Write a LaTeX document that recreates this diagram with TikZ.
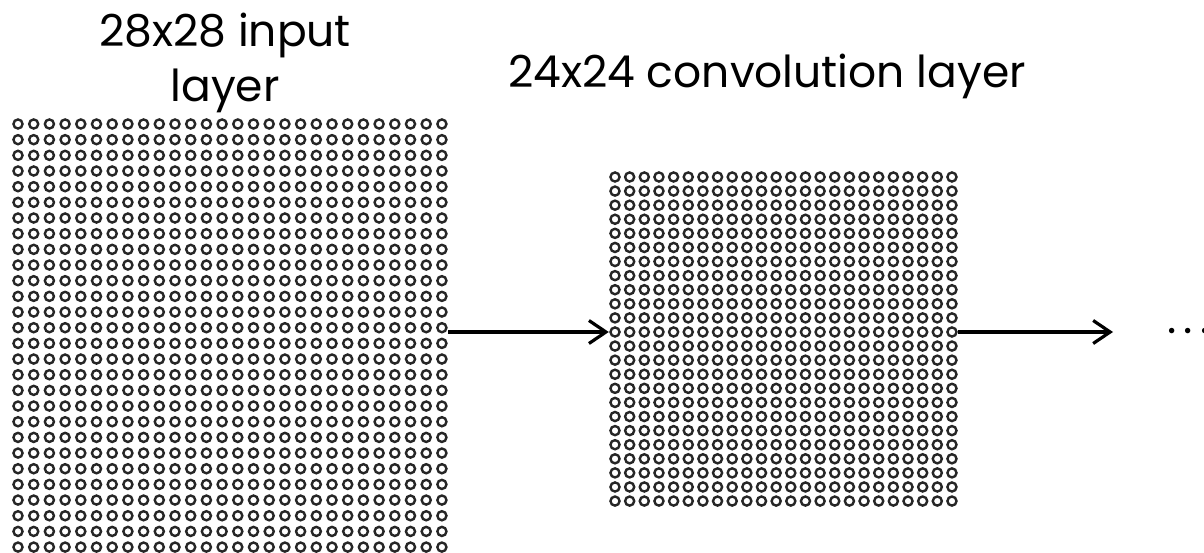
\documentclass[tikz,border=0pt]{standalone}
\usepackage{fontspec}
\setmainfont{Poppins}
\usetikzlibrary{arrows.meta}

\tikzset{
  unit/.style={draw=black!85, line width=2.4pt},
  layerbox/.style={inner sep=0pt, draw=none},
  conn/.style={line width=3.2pt, -{Straight Barb[length=17pt, width=23pt]}},
  title/.style={font=\fontsize{44}{55}\selectfont, align=center},
}

\begin{document}
\begin{tikzpicture}[x=1pt, y=-1pt]
  \useasboundingbox (0,0) rectangle (1204,553);

  %% --- 左：入力層（28x28） ---
  \begin{scope}
    \node[layerbox, minimum width=436pt, minimum height=435pt] (input) at (230, 335.5) {};
    \foreach \i in {0,...,27}
      \foreach \j in {0,...,27}
        \draw[unit] (18+15.7*\i, 124+15.67*\j) circle[radius=4.55pt];
    %% 複数行のノードでは base は最終行の基線
    \node[title, anchor=base] (inputtitle) at (225, 102) {28x28 input\\layer};
  \end{scope}

  %% --- 中：畳み込み層（24x24） ---
  \begin{scope}
    \node[layerbox, minimum width=349pt, minimum height=336pt] (conv) at (783.5, 339) {};
    \foreach \i in {0,...,23}
      \foreach \j in {0,...,23}
        \draw[unit] (615+14.65*\i, 177+14.09*\j) circle[radius=4.55pt];
    \node[title, anchor=base] (convtitle) at (767, 88) {24x24 convolution layer};
  \end{scope}

  %% 層の間の矢印と，その先の省略
  \coordinate (next) at (1113, 332);
  \draw[conn] ([yshift=3.5pt]input.east) -- ([yshift=3.5pt]input.east -| conv.west);
  \draw[conn] (conv.east |- next) -- (next);
  \node[anchor=base west, font=\fontsize{44}{55}\selectfont, inner sep=0pt]
    (more) at (1167, 333) {.\kern7.5pt.\kern7.5pt.};
\end{tikzpicture}
\end{document}
